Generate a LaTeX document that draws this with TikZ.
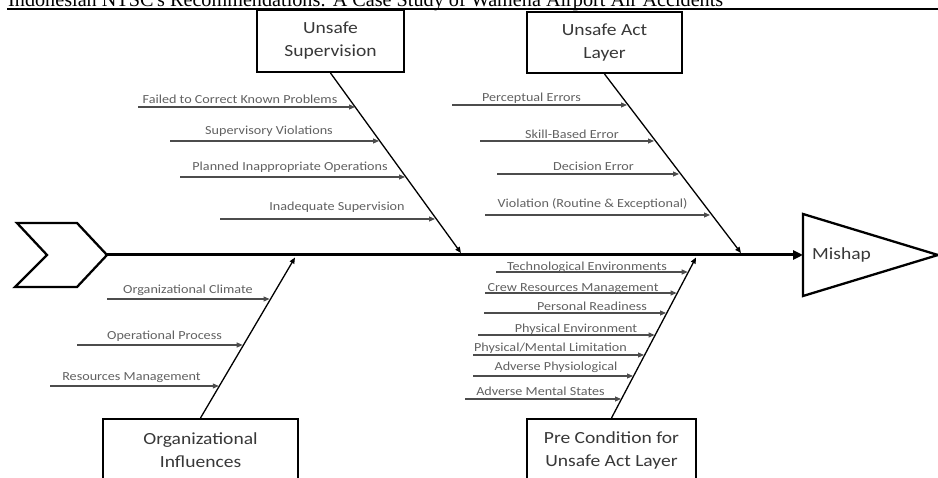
\documentclass[tikz,border=0pt]{standalone}
\usepackage{fontspec}
\usetikzlibrary{arrows.meta,calc}
\newfontfamily\cfont[FakeStretch=1.15]{Carlito}
\newfontfamily\hfont{Liberation Serif}
\begin{document}
\begin{tikzpicture}[x=1pt,y=-1pt,
  catbox/.style={draw=black,line width=2pt,fill=white,align=center,inner sep=0pt,
    font=\cfont\fontsize{17}{23}\selectfont,text=black!78},
  lbl/.style={anchor=base,inner sep=0pt,font=\cfont\fontsize{12.3}{14}\selectfont,text=black!62},
  outline/.style={draw=black,line width=2.3pt,line join=miter},
  spine/.style={line width=3pt,-{Triangle[length=10pt,width=9pt]}},
  diag/.style={line width=1.3pt,-{Triangle[length=6pt,width=5pt]}},
  sub/.style={draw=black!70,line width=1.1pt,-{Triangle[length=6pt,width=5pt]}}]
\useasboundingbox (0,0) rectangle (938,478);
\clip (0,0) rectangle (938,478);

% running head
\node[anchor=base west,inner sep=0pt,font=\hfont\fontsize{20.2}{24}\selectfont] (head) at (8,6.5)
  {Indonesian NTSC's Recommendations: A Case Study of Wamena Airport Air Accidents};
\draw[line width=1.5pt] (7,9) -- (938,9);

% fish tail and head
\draw[outline] (17,223) -- (77,223) -- (107,255) -- (77,287) -- (15,287) -- (47,255) -- cycle;
\coordinate (tail) at (107,255);
\draw[outline] (803,214) -- (938,255) -- (803,296) -- cycle;
\coordinate (mishapL) at (803,255);
\node[anchor=west,inner sep=0pt,font=\cfont\fontsize{17}{23}\selectfont,text=black!78] (mishap) at (812,255) {Mishap};

% backbone
\draw[spine] (tail) -- (mishapL);

% category boxes
\node[catbox,minimum width=147pt,minimum height=62pt] (sup) at (330.5,41) {Unsafe\\Supervision};
\node[catbox,minimum width=155pt,minimum height=61pt] (act) at (604.5,42.5) {Unsafe Act\\Layer};
\node[catbox,minimum width=195pt,minimum height=62pt] (org) at (200.5,450) {Organizational\\Influences};
\node[catbox,minimum width=169pt,minimum height=62pt] (pre) at (611.5,450) {Pre Condition for\\Unsafe Act Layer};

% main bones
\coordinate (supT) at (461,253);
\coordinate (actT) at (741,253);
\coordinate (orgT) at (295,257.5);
\coordinate (preT) at (696,257.5);
\draw[diag] (sup.south) -- (supT);
\draw[diag] (act.south) -- (actT);
\draw[diag] (org.north) -- (orgT);
\draw[diag] (pre.north) -- (preT);

% unsafe supervision causes
\foreach \n/\xa/\xb/\y in {s1/138/355/107, s2/170/379/141, s3/180/405/177, s4/220/435/219}{
  \coordinate (\n a) at (\xa,\y); \coordinate (\n b) at (\xb,\y);
  \draw[sub] (\n a) -- (\n b);}
\node[lbl] (ls1) at (240,104) {Failed to Correct Known Problems};
\node[lbl] (ls2) at (269,135) {Supervisory Violations};
\node[lbl] (ls3) at (290,171) {Planned Inappropriate Operations};
\node[lbl] (ls4) at (337,211) {Inadequate Supervision};

% unsafe act causes
\foreach \n/\xa/\xb/\y in {a1/452/627/105, a2/480/654/141, a3/497/679/174, a4/485/710/215}{
  \coordinate (\n a) at (\xa,\y); \coordinate (\n b) at (\xb,\y);
  \draw[sub] (\n a) -- (\n b);}
\node[lbl] (la1) at (531.5,102) {Perceptual Errors};
\node[lbl] (la2) at (572,139) {Skill-Based Error};
\node[lbl] (la3) at (593.5,171) {Decision Error};
\node[lbl] (la4) at (592.5,208) {Violation (Routine \& Exceptional)};

% organizational causes
\foreach \n/\xa/\xb/\y in {o1/107/269.5/299, o2/77/242.7/345, o3/50/218.8/386}{
  \coordinate (\n a) at (\xa,\y); \coordinate (\n b) at (\xb,\y);
  \draw[sub] (\n a) -- (\n b);}
\node[lbl] (lo1) at (188,294) {Organizational Climate};
\node[lbl] (lo2) at (164.5,340) {Operational Process};
\node[lbl] (lo3) at (131.5,381) {Resources Management};

% preconditions
\foreach \n/\xa/\xb/\y in {p1/496/687.7/272, p2/485/676.6/293, p3/484/666/313,
    p4/478/654.6/335, p5/473/644/355, p6/473/633/376, p7/465/621/399}{
  \coordinate (\n a) at (\xa,\y); \coordinate (\n b) at (\xb,\y);
  \draw[sub] (\n a) -- (\n b);}
\node[lbl] (lp1) at (587,271) {Technological Environments};
\node[lbl] (lp2) at (573,292) {Crew Resources Management};
\node[lbl] (lp3) at (592,311) {Personal Readiness};
\node[lbl] (lp4) at (576,333) {Physical Environment};
\node[lbl] (lp5) at (550.5,352) {Physical/Mental Limitation};
\node[lbl] (lp6) at (556,371) {Adverse Physiological};
\node[lbl] (lp7) at (540.5,396) {Adverse Mental States};
\end{tikzpicture}
\end{document}
